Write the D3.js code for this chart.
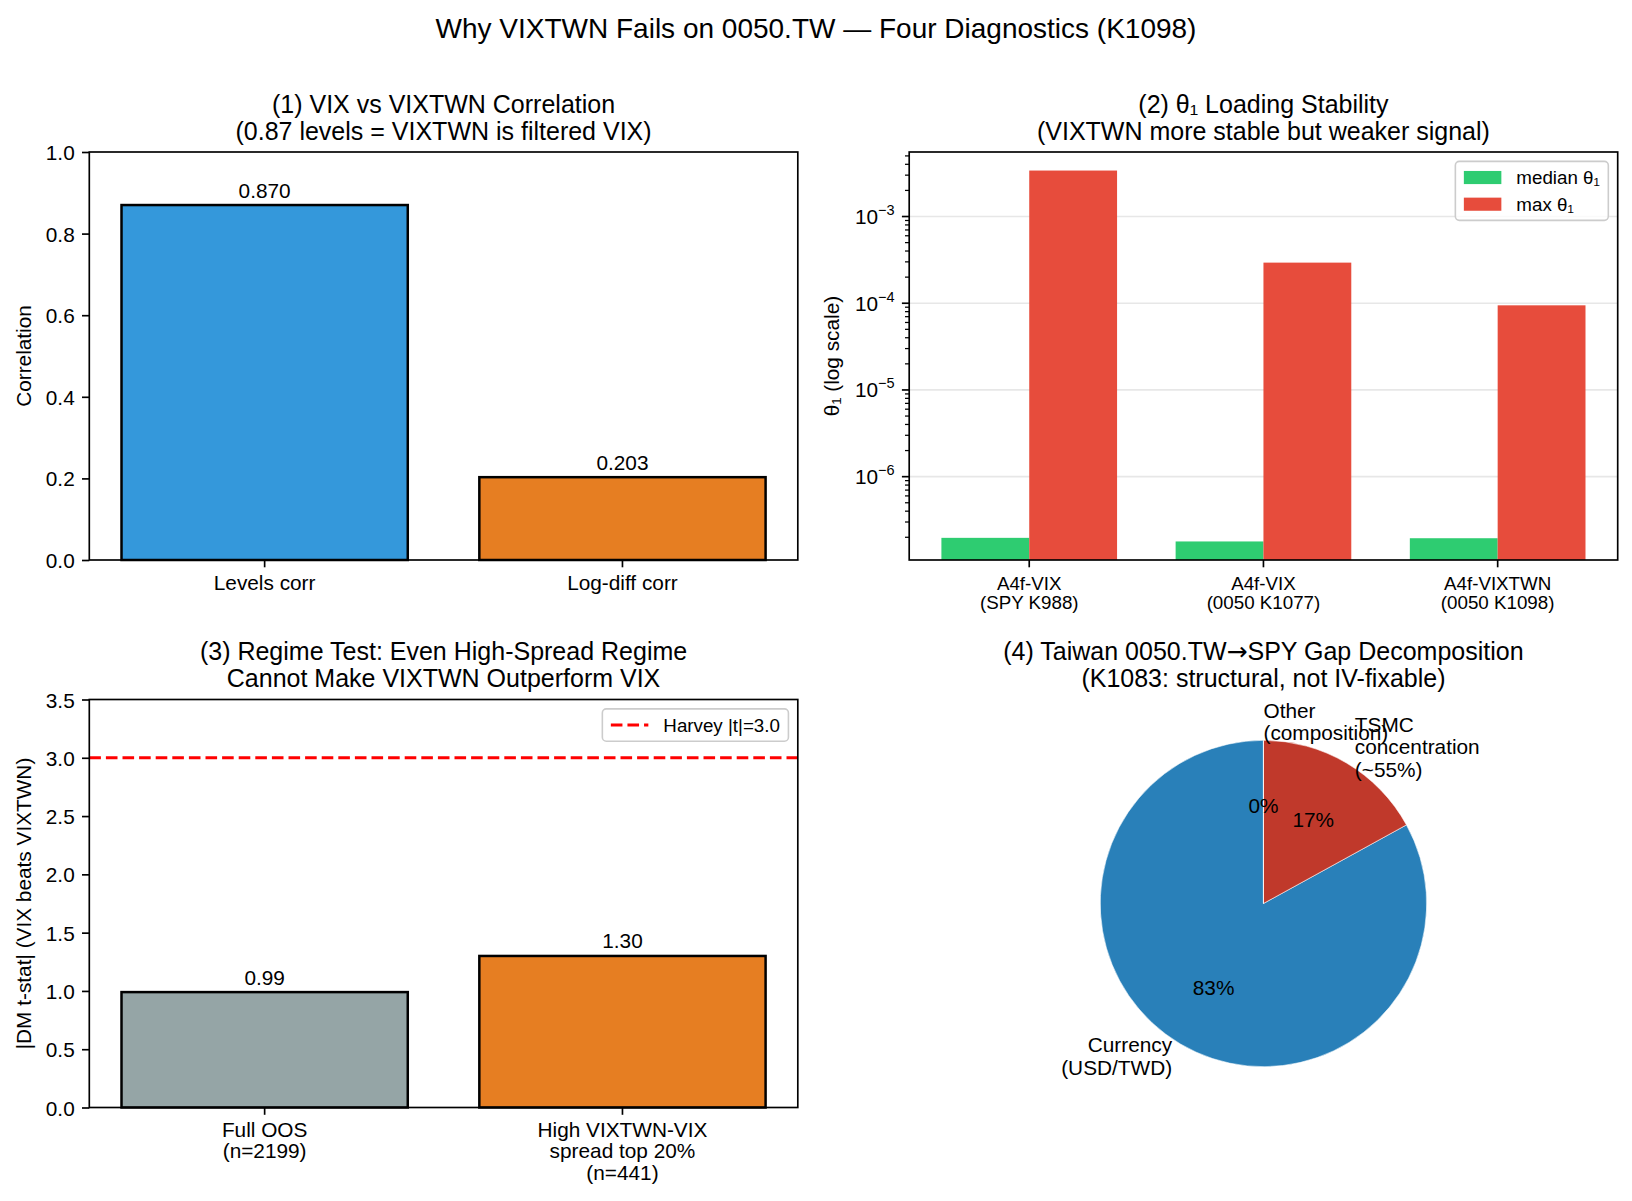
<!DOCTYPE html>
<html><head><meta charset="utf-8">
<script src="https://cdn.jsdelivr.net/npm/d3@7"></script>
<style>
body{margin:0;background:#fff}
svg{display:block}
text{font-family:"Liberation Sans", Arial, Helvetica, sans-serif; fill:#000}
</style>
</head><body>
<svg id="c" width="1632" height="1201"></svg>
<script>
// ---------------- DATA ----------------
const suptitle = "Why VIXTWN Fails on 0050.TW \u2014 Four Diagnostics (K1098)";

const corrTitle = ["(1) VIX vs VIXTWN Correlation", "(0.87 levels = VIXTWN is filtered VIX)"];
const corrCategories = [["Levels corr"], ["Log-diff corr"]];
const corrValues = [0.870, 0.203];
const corrColors = ["#3498db", "#e67e22"];
const corrTicks = [0.0, 0.2, 0.4, 0.6, 0.8, 1.0];
const corrYLabel = "Correlation";

const thetaTitle = ["(2) \u03b8\u2081 Loading Stability", "(VIXTWN more stable but weaker signal)"];
const thetaCategories = [["A4f-VIX", "(SPY K988)"], ["A4f-VIX", "(0050 K1077)"], ["A4f-VIXTWN", "(0050 K1098)"]];
const thetaMedian = [1.97e-7, 1.79e-7, 1.95e-7];
const thetaMax = [3.39e-3, 2.94e-4, 9.46e-5];
const thetaSeries = ["median \u03b8\u2081", "max \u03b8\u2081"];
const thetaColors = ["#2ecc71", "#e74c3c"];
const thetaTicks = [1e-6, 1e-5, 1e-4, 1e-3];
const thetaYLabel = "\u03b8\u2081 (log scale)";

const regimeTitle = ["(3) Regime Test: Even High-Spread Regime", "Cannot Make VIXTWN Outperform VIX"];
const regimeCategories = [["Full OOS", "(n=2199)"], ["High VIXTWN-VIX", "spread top 20%", "(n=441)"]];
const regimeValues = [0.99, 1.30];
const regimeColors = ["#95a5a6", "#e67e22"];
const regimeTicks = [0.0, 0.5, 1.0, 1.5, 2.0, 2.5, 3.0, 3.5];
const harveyThreshold = 3.0;
const harveyLabel = "Harvey |t|=3.0";
const regimeYLabel = "|DM t-stat| (VIX beats VIXTWN)";

const gapTitle = ["(4) Taiwan 0050.TW\u2192SPY Gap Decomposition", "(K1083: structural, not IV-fixable)"];
const gapLabels = [["Currency", "(USD/TWD)"], ["TSMC", "concentration", "(~55%)"], ["Other", "(composition)"]];
const gapShares = [83, 17, 0];
const gapColors = ["#2980b9", "#c0392b", "#95a5a6"];

// ---------------- LAYOUT ----------------
const FS = 20.8, FS9 = 18.75, TFS = 25, SFS = 28;
const SPINE = 1.67, TICK = 7.3, PAD = 7.3;
const P1 = {L: 89.3, R: 797.8, T: 152, B: 560};
const P2 = {L: 909.2, R: 1617.7, T: 152, B: 560};
const P3 = {L: 89.3, R: 797.8, T: 699.5, B: 1107.5};
const P4 = {L: 909.2, R: 1617.7, T: 699.5, B: 1107.5};

const svg = d3.select("#c");

svg.append("text").attr("x", 816).attr("y", 38).attr("text-anchor", "middle")
  .attr("font-size", SFS).text(suptitle);

function title(p, lines) {
  const cx = (p.L + p.R) / 2;
  const n = lines.length;
  lines.forEach((t, i) => {
    const el = svg.append("text").attr("x", cx).attr("y", p.T - 12.5 - (n - 1 - i) * 27)
      .attr("text-anchor", "middle").attr("font-size", TFS);
    const parts = t.split("\u2192");
    parts.forEach((s, k) => {
      if (k > 0) el.append("tspan").style("font-family", '"DejaVu Sans", sans-serif').text("\u2192");
      el.append("tspan").text(s);
    });
  });
}
function frame(p) {
  svg.append("rect").attr("x", p.L).attr("y", p.T).attr("width", p.R - p.L).attr("height", p.B - p.T)
    .attr("fill", "none").attr("stroke", "#000").attr("stroke-width", SPINE);
}
function ylabel(x, p, t) {
  svg.append("text").attr("transform", `translate(${x},${(p.T + p.B) / 2}) rotate(-90)`)
    .attr("text-anchor", "middle").attr("dominant-baseline", "central").attr("font-size", FS).text(t);
}
function xticks(p, x, cats, fs, pitch) {
  cats.forEach((lines, i) => {
    const cx = x(i);
    svg.append("line").attr("x1", cx).attr("x2", cx).attr("y1", p.B).attr("y2", p.B + TICK)
      .attr("stroke", "#000").attr("stroke-width", SPINE);
    const t = svg.append("text").attr("text-anchor", "middle").attr("font-size", fs);
    lines.forEach((s, j) => {
      t.append("tspan").attr("x", cx).attr("y", p.B + 29.5 + j * pitch).text(s);
    });
  });
}
function yaxisLinear(p, y, ticks) {
  const ax = d3.axisLeft(y).tickValues(ticks).tickFormat(d3.format(".1f")).tickSize(TICK).tickPadding(PAD);
  const g = svg.append("g").attr("transform", `translate(${p.L},0)`).call(ax);
  g.attr("font-family", null).attr("font-size", FS);
  g.select(".domain").remove();
  g.selectAll(".tick line").attr("stroke-width", SPINE);
  g.selectAll(".tick text").attr("dy", "0.36em");
}
function legend(p, entries, fs) {
  const pad = 0.4 * fs, hl = 2 * fs, htp = 0.8 * fs, rowH = 17.3, ls = 0.5 * fs;
  const g = svg.append("g");
  const box = g.append("rect");
  const texts = entries.map(e => g.append("text").attr("font-size", fs).text(e.label));
  const tw = d3.max(texts, t => t.node().getComputedTextLength());
  const w = pad * 2 + hl + htp + tw + 2;
  const h = pad * 2 + entries.length * rowH + (entries.length - 1) * ls;
  const right = p.R - 0.5 * fs, top = p.T + 0.5 * fs, left = right - w;
  box.attr("x", left).attr("y", top).attr("width", w).attr("height", h).attr("rx", 4)
    .attr("fill", "#fff").attr("fill-opacity", 0.8).attr("stroke", "#cccccc").attr("stroke-width", 1.6);
  entries.forEach((e, i) => {
    const cy = top + pad + rowH / 2 + i * (rowH + ls);
    const hx = left + pad + 1;
    if (e.type === "patch") {
      g.append("rect").attr("x", hx).attr("y", cy - 0.35 * fs).attr("width", hl).attr("height", 0.7 * fs)
        .attr("fill", e.color);
    } else {
      g.append("line").attr("x1", hx).attr("x2", hx + hl).attr("y1", cy).attr("y2", cy)
        .attr("stroke", e.color).attr("stroke-width", 3.1).attr("stroke-dasharray", "11.6,5");
    }
    texts[i].attr("x", hx + hl + htp).attr("y", cy + 0.36 * fs);
  });
}
function barDomain(n, bw) {
  const lo = -bw / 2, hi = n - 1 + bw / 2, m = 0.05 * (hi - lo);
  return [lo - m, hi + m];
}

// ---------------- PANEL 1 ----------------
(function () {
  const p = P1, bw = 0.8;
  const x = d3.scaleLinear().domain(barDomain(corrValues.length, bw)).range([p.L, p.R]);
  const y = d3.scaleLinear().domain([0, 1]).range([p.B, p.T]);
  title(p, corrTitle);
  corrValues.forEach((v, i) => {
    svg.append("rect").attr("x", x(i - bw / 2)).attr("width", x(bw) - x(0))
      .attr("y", y(v)).attr("height", y(0) - y(v))
      .attr("fill", corrColors[i]).attr("stroke", "#000").attr("stroke-width", 2.5);
    svg.append("text").attr("x", x(i)).attr("y", y(v) - 7.5).attr("text-anchor", "middle")
      .attr("font-size", FS).text(d3.format(".3f")(v));
  });
  yaxisLinear(p, y, corrTicks);
  xticks(p, x, corrCategories, FS, 21.3);
  ylabel(23, p, corrYLabel);
  frame(p);
})();

// ---------------- PANEL 2 ----------------
(function () {
  const p = P2, bw = 0.375;
  const n = thetaCategories.length;
  const x = d3.scaleLinear().domain(barDomain(n, 2 * bw)).range([p.L, p.R]);
  const all = thetaMedian.concat(thetaMax).map(Math.log10);
  const lo = d3.min(all), hi = d3.max(all), r = hi - lo;
  const y = d3.scaleLog().domain([10 ** (lo - 0.05 * r), 10 ** (hi + 0.05 * r)]).range([p.B, p.T]);
  title(p, thetaTitle);
  thetaTicks.forEach(t => {
    svg.append("line").attr("x1", p.L).attr("x2", p.R).attr("y1", y(t)).attr("y2", y(t))
      .attr("stroke", "#b0b0b0").attr("stroke-opacity", 0.3).attr("stroke-width", 1.67);
  });
  [thetaMedian, thetaMax].forEach((series, s) => {
    series.forEach((v, i) => {
      const x0 = s === 0 ? i - bw : i;
      svg.append("rect").attr("x", x(x0)).attr("width", x(bw) - x(0))
        .attr("y", y(v)).attr("height", p.B - y(v)).attr("fill", thetaColors[s]);
    });
  });
  thetaTicks.forEach(t => {
    const yy = y(t);
    svg.append("line").attr("x1", p.L - TICK).attr("x2", p.L).attr("y1", yy).attr("y2", yy)
      .attr("stroke", "#000").attr("stroke-width", SPINE);
    const e = Math.round(Math.log10(t));
    const tx = svg.append("text").attr("x", p.L - TICK - PAD).attr("y", yy + 0.36 * FS)
      .attr("text-anchor", "end").attr("font-size", FS);
    tx.append("tspan").text("10");
    tx.append("tspan").attr("font-size", 14.5).attr("dy", -9).text((e < 0 ? "\u2212" : "") + Math.abs(e));
  });
  const [d0, d1] = y.domain();
  for (let e = Math.floor(Math.log10(d0)); e <= Math.ceil(Math.log10(d1)); e++) {
    for (let k = 2; k <= 9; k++) {
      const v = k * 10 ** e;
      if (v < d0 || v > d1) continue;
      svg.append("line").attr("x1", p.L - 4.2).attr("x2", p.L).attr("y1", y(v)).attr("y2", y(v))
        .attr("stroke", "#000").attr("stroke-width", 1.25);
    }
  }
  xticks(p, x, thetaCategories, FS9, 19.4);
  ylabel(831, p, thetaYLabel);
  legend(p, thetaSeries.map((s, i) => ({type: "patch", color: thetaColors[i], label: s})), FS9);
  frame(p);
})();

// ---------------- PANEL 3 ----------------
(function () {
  const p = P3, bw = 0.8;
  const x = d3.scaleLinear().domain(barDomain(regimeValues.length, bw)).range([p.L, p.R]);
  const y = d3.scaleLinear().domain([0, 3.5]).range([p.B, p.T]);
  title(p, regimeTitle);
  regimeValues.forEach((v, i) => {
    svg.append("rect").attr("x", x(i - bw / 2)).attr("width", x(bw) - x(0))
      .attr("y", y(v)).attr("height", y(0) - y(v))
      .attr("fill", regimeColors[i]).attr("stroke", "#000").attr("stroke-width", 2.5);
    svg.append("text").attr("x", x(i)).attr("y", y(v) - 7.5).attr("text-anchor", "middle")
      .attr("font-size", FS).text(d3.format(".2f")(v));
  });
  svg.append("line").attr("x1", p.L).attr("x2", p.R).attr("y1", y(harveyThreshold)).attr("y2", y(harveyThreshold))
    .attr("stroke", "#ff0000").attr("stroke-width", 3.1).attr("stroke-dasharray", "11.6,5");
  yaxisLinear(p, y, regimeTicks);
  xticks(p, x, regimeCategories, FS, 21.3);
  ylabel(23, p, regimeYLabel);
  legend(p, [{type: "line", color: "#ff0000", label: harveyLabel}], FS9);
  frame(p);
})();

// ---------------- PANEL 4 (pie) ----------------
(function () {
  const p = P4;
  title(p, gapTitle);
  const cx = (p.L + p.R) / 2, cy = (p.T + p.B) / 2;
  const r = (p.B - p.T) / 2.5;
  const total = d3.sum(gapShares);
  // counter-clockwise from 12 o'clock (d3 angles are clockwise, so run to -2π)
  const pie = d3.pie().sort(null).startAngle(0).endAngle(-2 * Math.PI);
  const arcs = pie(gapShares);
  const arc = d3.arc().innerRadius(0).outerRadius(r);
  const g = svg.append("g").attr("transform", `translate(${cx},${cy})`);
  arcs.forEach((a, i) => {
    g.append("path").attr("d", arc(a)).attr("fill", gapColors[i])
      .attr("stroke", "#ffffff").attr("stroke-width", 0.8).attr("stroke-opacity", 0.7);
  });
  // label angles computed in the standard math convention (degrees CCW from +x, starting at 90)
  let theta1 = 90;
  arcs.forEach((a, i) => {
    const theta2 = theta1 + 360 * gapShares[i] / total;
    const thetam = Math.PI / 180 * (theta1 + theta2) / 2;
    theta1 = theta2;
    const cx0 = Math.cos(thetam), sy0 = Math.sin(thetam);
    const lx = 1.1 * r * cx0, ly = -1.1 * r * sy0;
    const lines = gapLabels[i];
    const pitch = 22.4;
    const t = g.append("text").attr("font-size", FS).attr("text-anchor", lx > 0 ? "start" : "end");
    lines.forEach((s, j) => {
      t.append("tspan").attr("x", lx)
        .attr("y", ly - (lines.length - 1) * pitch / 2 + j * pitch + 5.3).text(s);
    });
    const px = 0.6 * r * cx0, py = -0.6 * r * sy0;
    g.append("text").attr("x", px).attr("y", py + 0.36 * FS).attr("text-anchor", "middle")
      .attr("font-size", FS).text(d3.format(".0f")(100 * gapShares[i] / total) + "%");
  });
})();
</script>
</body></html>
